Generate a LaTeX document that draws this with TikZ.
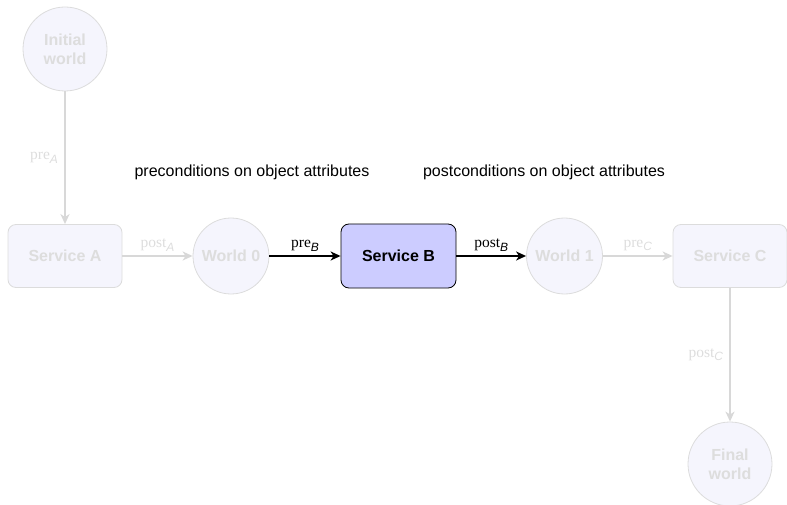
\documentclass[tikz,border=0pt]{standalone}
\usepackage{fontspec}
\setmainfont{Liberation Sans}
\newfontfamily\serifrm{Liberation Serif}
\usetikzlibrary{arrows.meta}
\definecolor{ghostfill}{HTML}{F5F5FD}
\definecolor{ghostdraw}{HTML}{DCDCDC}
\definecolor{ghosttext}{HTML}{DDDDDD}
\definecolor{ghostline}{HTML}{D8D8D8}
\definecolor{activefill}{HTML}{CCCCFF}
\newcommand{\sublbl}[2]{#1\raisebox{-3.5pt}{\normalfont\itshape\fontsize{12}{12}\selectfont #2}}
\tikzset{
  x=1pt, y=-1pt,
  nodefont/.style={font=\bfseries\fontsize{16}{19}\selectfont},
  world/.style={circle, draw=ghostdraw, fill=ghostfill, text=ghosttext, nodefont, align=center, inner sep=0pt, line width=0.8pt},
  service/.style={rectangle, rounded corners=8pt, minimum width=114pt, minimum height=63pt, draw=ghostdraw, fill=ghostfill, text=ghosttext, nodefont, line width=0.8pt},
  activeservice/.style={service, draw=black, fill=activefill, text=black},
  lbl/.style={font=\serifrm\fontsize{15.5}{17}\selectfont, inner sep=4pt},
  ghostlbl/.style={lbl, text=ghosttext},
  ghostarrow/.style={draw=ghostline, line width=2pt, -{Stealth[length=10pt, width=9pt, inset=3pt]}},
  activearrow/.style={draw=black, line width=1.8pt, -{Stealth[length=10pt, width=9pt, inset=3pt]}},
  note/.style={font=\fontsize{16}{19}\selectfont, text=black}
}
\begin{document}
\begin{tikzpicture}
\useasboundingbox (0,0) rectangle (787,505);
\node[world, minimum size=84pt] (iw) at (65,49) {Initial\\world};
\node[service] (sa) at (65,256) {Service A};
\node[world, minimum size=76pt] (w0) at (231,256) {World 0};
\node[activeservice, minimum width=115pt, minimum height=64pt] (sb) at (398.5,256) {Service B};
\node[world, minimum size=76pt] (w1) at (564.5,256) {World 1};
\node[service] (sc) at (730,256) {Service C};
\node[world, minimum size=84pt] (fw) at (730,464) {Final\\world};

\node[note] (pre) at (252,172) {preconditions on object attributes};
\node[note] (post) at (544,172) {postconditions on object attributes};

\draw[ghostarrow] (iw) -- node[ghostlbl, left, xshift=-2pt] {\sublbl{pre}{A}} (sa);
\draw[ghostarrow] (sa) -- node[ghostlbl, above] {\sublbl{post}{A}} (w0);
\draw[activearrow] (w0) -- node[lbl, above] {\sublbl{pre}{B}} (sb);
\draw[activearrow] (sb) -- node[lbl, above] {\sublbl{post}{B}} (w1);
\draw[ghostarrow] (w1) -- node[ghostlbl, above] {\sublbl{pre}{C}} (sc);
\draw[ghostarrow] (sc) -- node[ghostlbl, left, xshift=-2pt] {\sublbl{post}{C}} (fw);
\end{tikzpicture}
\end{document}
